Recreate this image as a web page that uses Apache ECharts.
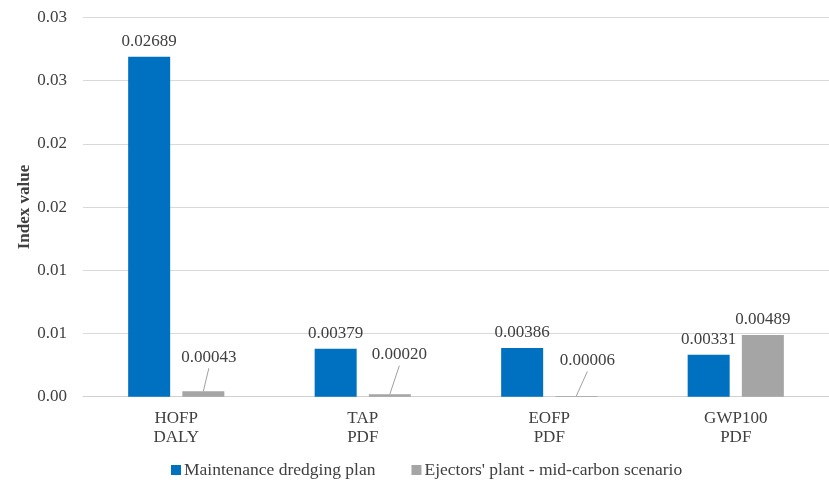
<!DOCTYPE html>
<html>
<head>
<meta charset="utf-8">
<script src="https://cdn.jsdelivr.net/npm/echarts@6/dist/echarts.min.js"></script>
<style>
  html, body { margin: 0; padding: 0; background: #ffffff; }
  #chart { width: 829px; height: 481px; }
</style>
</head>
<body>
<div id="chart"></div>
<script>
// Impact categories (indicator / damage unit)
const categories = ['HOFP\nDALY', 'TAP\nPDF', 'EOFP\nPDF', 'GWP100\nPDF'];

// Index values per scenario
const maintenanceValues = [0.02689, 0.00379, 0.00386, 0.00331];
const ejectorsValues = [0.00043, 0.00020, 0.00006, 0.00489];

const seriesNames = ['Maintenance dredging plan', "Ejectors' plant - mid-carbon scenario"];

// Y tick labels as printed with two decimals
const yTickLabels = ['0.00', '0.01', '0.01', '0.02', '0.02', '0.03', '0.03'];

// Small-value labels are lifted off their bars and tied back with a leader line
const calloutShift = { 0: [5.5, -18.5], 1: [9.5, -24], 2: [11, -20] };

const BAR_WIDTH = 42;
const BAR_GAP = 0.29;
// horizontal offset of the second bar's centre from the category centre
const secondBarOffset = (BAR_WIDTH + BAR_WIDTH * BAR_GAP) / 2;
const LABEL_DISTANCE = 7;
const FONT_SIZE = 17;

const textColor = '#404040';
const fontFamily = '"Liberation Serif", "Times New Roman", serif';

const chart = echarts.init(document.getElementById('chart'), null, { renderer: 'canvas' });

const fmt = (p) => p.value.toFixed(5);

const calloutData = ejectorsValues
  .map((v, i) => [i, v])
  .filter((d) => calloutShift[d[0]]);

chart.setOption({
  animation: false,
  backgroundColor: '#ffffff',
  textStyle: { fontFamily: fontFamily, color: textColor },
  grid: { left: 83, top: 17.5, width: 757, height: 379.2, containLabel: false },
  legend: {
    left: 166,
    top: 456,
    itemWidth: 10,
    itemHeight: 10,
    itemGap: 36,
    icon: 'rect',
    textStyle: { fontFamily: fontFamily, fontSize: 17.5, color: textColor, padding: [0, 0, 0, -2] },
    data: seriesNames
  },
  xAxis: {
    type: 'category',
    data: categories,
    axisLine: { show: true, lineStyle: { color: '#d0d0d0', width: 1 } },
    axisTick: { show: false },
    axisLabel: {
      fontFamily: fontFamily,
      fontSize: FONT_SIZE,
      color: textColor,
      lineHeight: 19,
      margin: 12
    }
  },
  yAxis: {
    type: 'value',
    min: 0,
    max: 0.03,
    interval: 0.005,
    name: 'Index value',
    nameLocation: 'middle',
    nameGap: 49.5,
    nameMoveOverlap: false,
    nameTextStyle: { fontFamily: fontFamily, fontSize: FONT_SIZE, fontWeight: 'bold', color: textColor },
    axisLine: { show: false },
    axisTick: { show: false },
    splitLine: { lineStyle: { color: '#d9d9d9', width: 1 } },
    axisLabel: {
      fontFamily: fontFamily,
      fontSize: FONT_SIZE,
      color: textColor,
      margin: 16,
      formatter: (v) => yTickLabels[Math.round(v / 0.005)]
    }
  },
  series: [
    {
      name: seriesNames[0],
      type: 'bar',
      data: maintenanceValues,
      barWidth: BAR_WIDTH,
      barGap: (BAR_GAP * 100) + '%',
      itemStyle: { color: '#0070C0' },
      label: {
        show: true,
        position: 'top',
        distance: LABEL_DISTANCE,
        fontFamily: fontFamily,
        fontSize: FONT_SIZE,
        color: textColor,
        formatter: fmt
      }
    },
    {
      name: seriesNames[1],
      type: 'bar',
      data: ejectorsValues,
      barWidth: BAR_WIDTH,
      barGap: (BAR_GAP * 100) + '%',
      itemStyle: { color: '#A5A5A5' },
      label: {
        show: true,
        position: 'top',
        distance: LABEL_DISTANCE,
        fontFamily: fontFamily,
        fontSize: FONT_SIZE,
        color: textColor,
        formatter: fmt
      },
      labelLayout: (params) => {
        const s = calloutShift[params.dataIndex];
        return s ? { dx: s[0], dy: s[1] } : {};
      }
    },
    {
      // leader lines from the top of the small grey bars to their lifted labels
      name: 'callouts',
      type: 'custom',
      silent: true,
      z: 5,
      data: calloutData,
      renderItem: (params, api) => {
        const idx = api.value(0);
        const p = api.coord([idx, api.value(1)]);
        const s = calloutShift[idx];
        const x0 = p[0] + secondBarOffset;
        const y0 = p[1];
        const x1 = x0 + s[0];
        const y1 = y0 - LABEL_DISTANCE - FONT_SIZE / 2 + s[1] + 11;
        return {
          type: 'line',
          shape: { x1: x0, y1: y0, x2: x1, y2: y1 },
          style: { stroke: '#a0a0a0', lineWidth: 1 }
        };
      }
    }
  ]
});
</script>
</body>
</html>
